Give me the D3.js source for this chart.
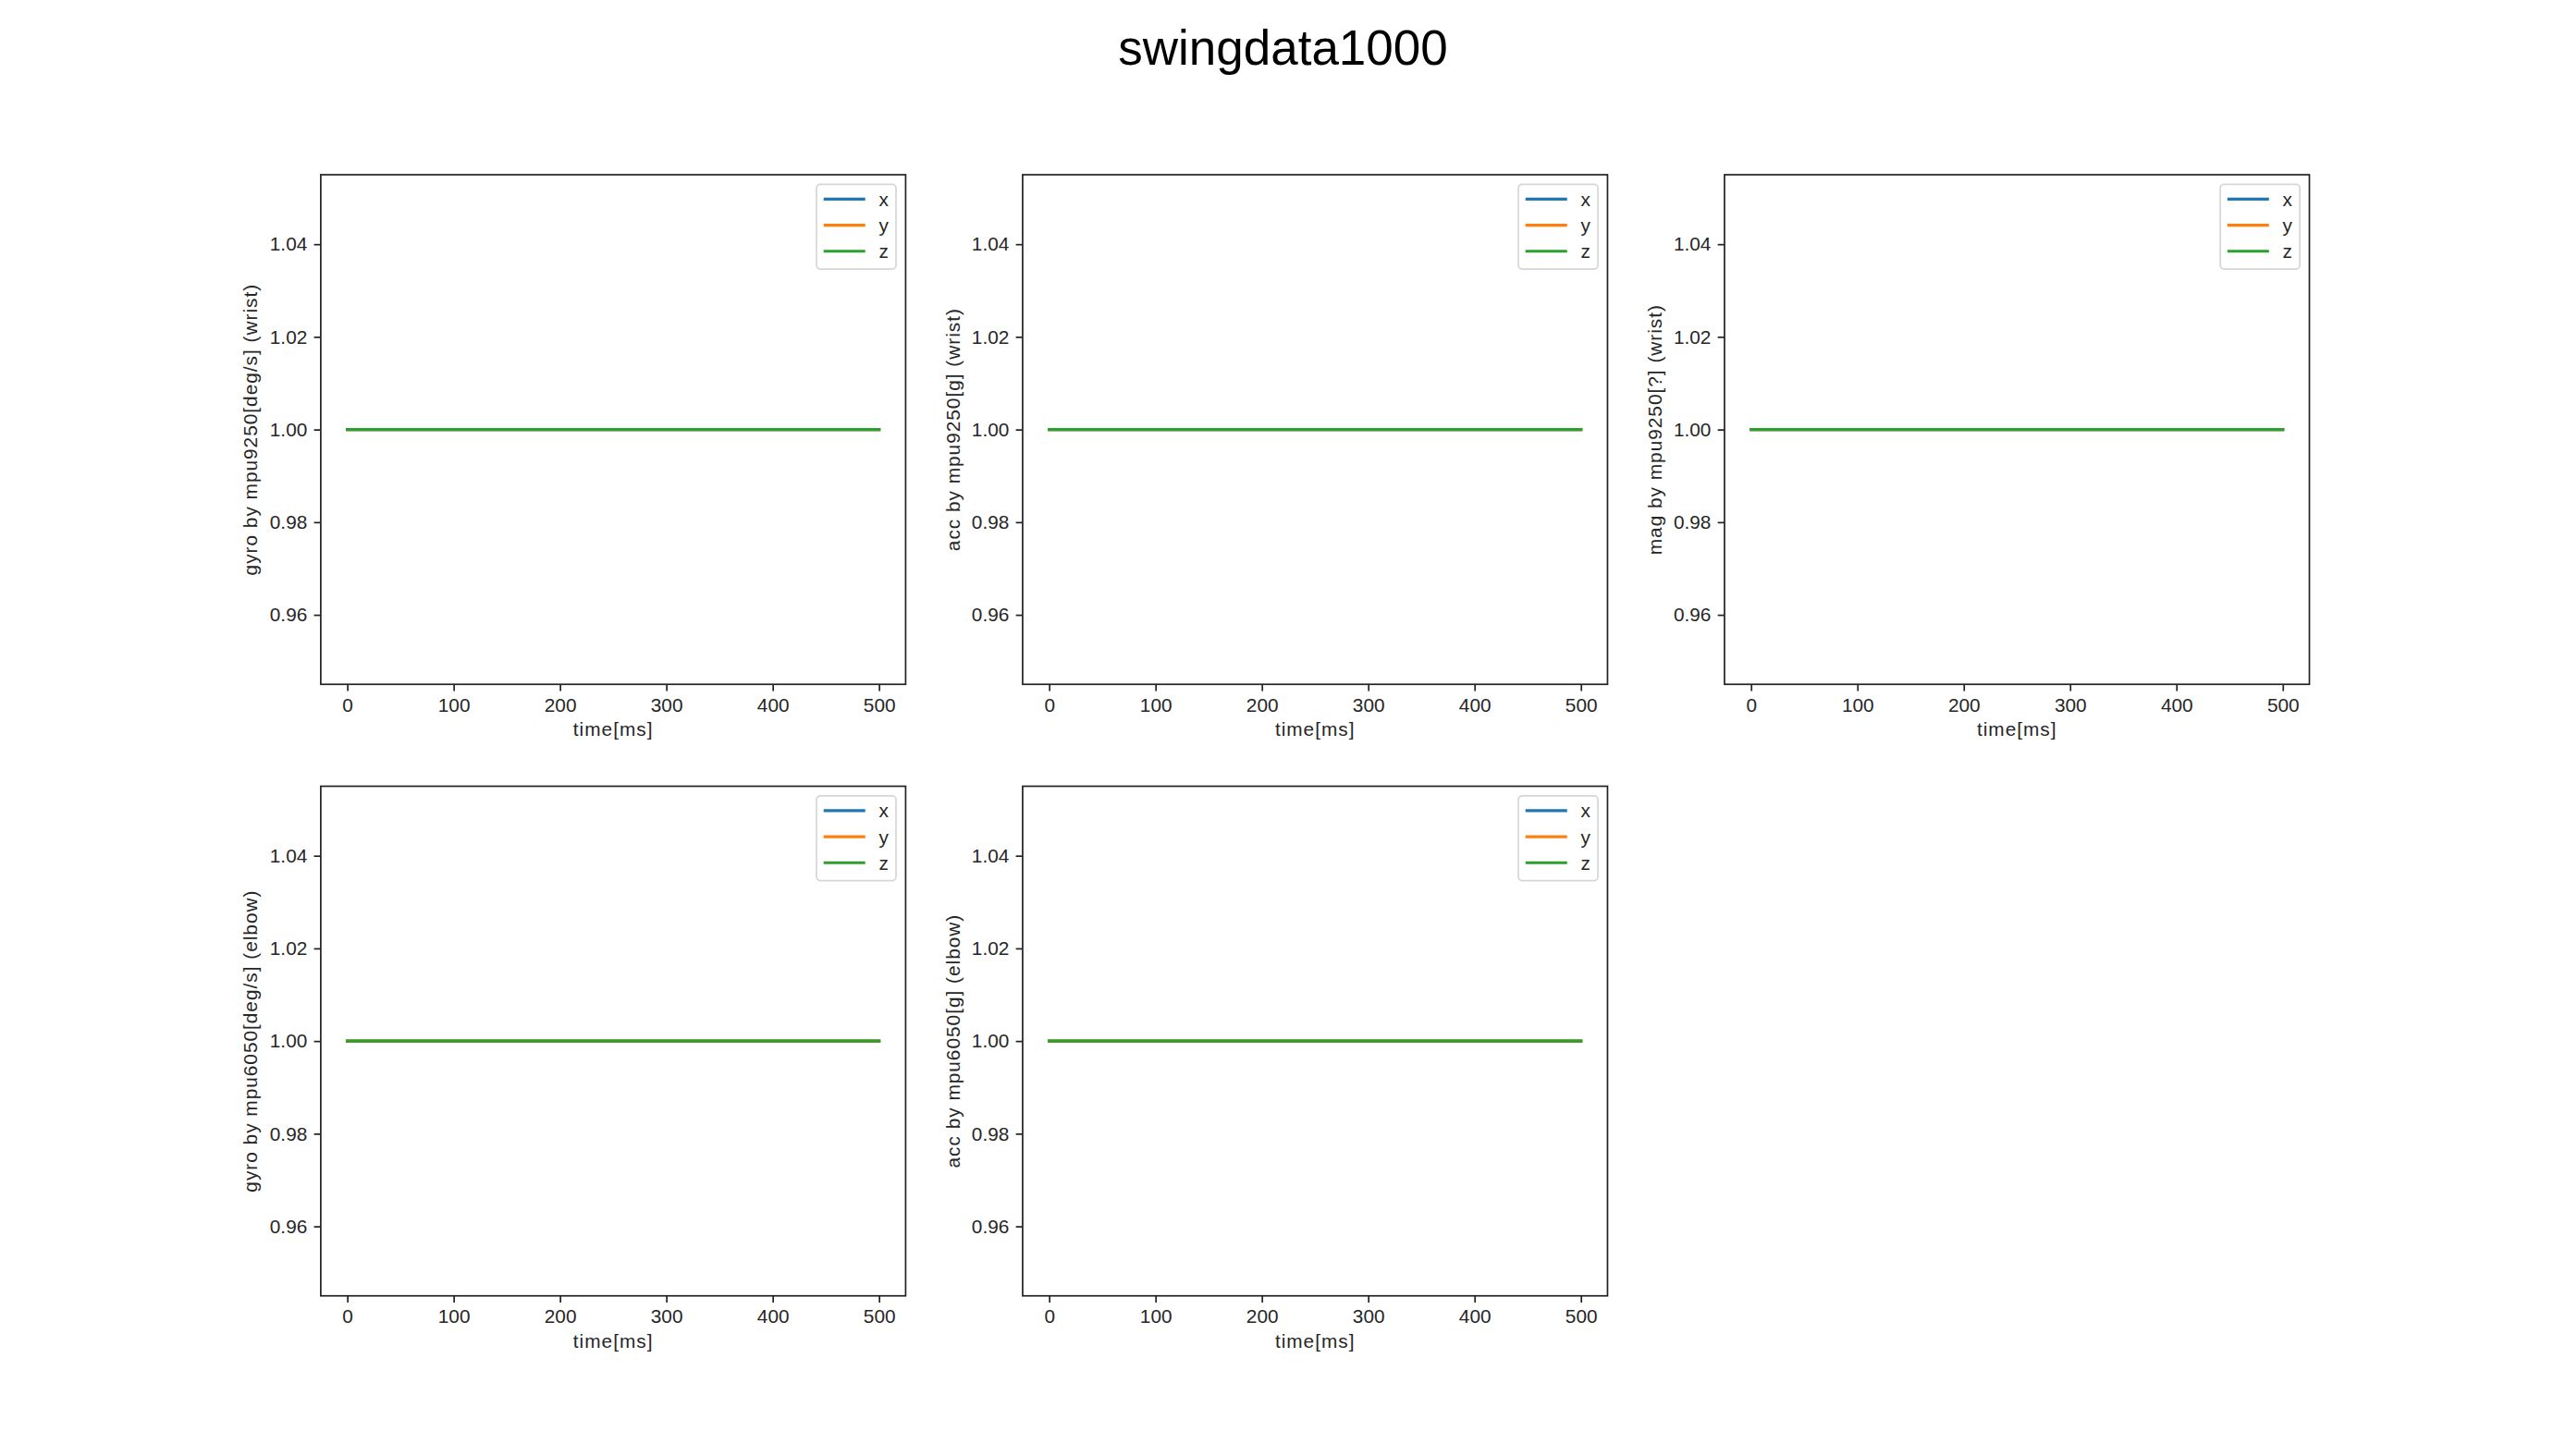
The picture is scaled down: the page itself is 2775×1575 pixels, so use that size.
<!DOCTYPE html>
<html>
<head>
<meta charset="utf-8">
<script src="https://cdn.jsdelivr.net/npm/d3@7"></script>
<style>
  body { margin: 0; background: #fff; }
  svg { display: block; }
  text { font-family: "Liberation Sans", Arial, sans-serif; fill: #262626; }
  .axlabel { letter-spacing: 1px; }
</style>
</head>
<body>
<svg id="chart" width="2775" height="1575"></svg>
<script>
// figure title and panel labels
const figTitle = "swingdata1000";
const xLabel = "time[ms]";
const panelLabels = [
    "gyro by mpu9250[deg/s] (wrist)",
    "acc by mpu9250[g] (wrist)",
    "mag by mpu9250[?] (wrist)",
    "gyro by mpu6050[deg/s] (elbow)",
    "acc by mpu6050[g] (elbow)"
];
const seriesNames = ["x", "y", "z"];

// samples (all sensors read a flat 1.0 in this file)
const timeMs = [0, 100, 200, 300, 400, 500];
const gyroWrist  = [[1, 1, 1, 1, 1, 1], [1, 1, 1, 1, 1, 1], [1, 1, 1, 1, 1, 1]];
const accWrist   = [[1, 1, 1, 1, 1, 1], [1, 1, 1, 1, 1, 1], [1, 1, 1, 1, 1, 1]];
const magWrist   = [[1, 1, 1, 1, 1, 1], [1, 1, 1, 1, 1, 1], [1, 1, 1, 1, 1, 1]];
const gyroElbow  = [[1, 1, 1, 1, 1, 1], [1, 1, 1, 1, 1, 1], [1, 1, 1, 1, 1, 1]];
const accElbow   = [[1, 1, 1, 1, 1, 1], [1, 1, 1, 1, 1, 1], [1, 1, 1, 1, 1, 1]];
const panelData = [gyroWrist, accWrist, magWrist, gyroElbow, accElbow];

// tick labels
const xTicks = [0, 100, 200, 300, 400, 500];
const yTicks = [0.96, 0.98, 1.00, 1.02, 1.04];

const colors = ["#1f77b4", "#ff7f0e", "#2ca02c"];

const W = 2775, H = 1575;
const fs = 20.8;           // 10pt @ 150dpi
const tickLen = 7.3, tickPad = 7.3;

// matplotlib-like subplot grid, 2 rows x 3 cols
const gLeft = 0.125 * W, gRight = 0.9 * W, gTop = 0.12 * H, gBottom = 0.89 * H;
const axW = (gRight - gLeft) / 3.4, axH = (gBottom - gTop) / 2.2;

const svg = d3.select("#chart");

svg.append("text")
    .attr("x", W / 2)
    .attr("y", 70)
    .attr("text-anchor", "middle")
    .style("font-size", "53px")
    .style("fill", "#000")
    .text(figTitle);

// pads the extent the way pyplot does
function padExtent(ext) {
    let lo = ext[0], hi = ext[1];
    if (lo === hi) {
        lo -= 0.05 * Math.abs(lo);
        hi += 0.05 * Math.abs(hi);
    }
    const m = (hi - lo) * 0.05;
    return [lo - m, hi + m];
}

panelData.forEach(function (series, i) {
    const row = Math.floor(i / 3), col = i % 3;
    const ox = gLeft + col * axW * 1.2;
    const oy = gTop + row * axH * 1.2;

    const g = svg.append("g").attr("transform", "translate(" + ox + "," + oy + ")");

    const x = d3.scaleLinear().domain(padExtent(d3.extent(timeMs))).range([0, axW]);
    const allVals = [].concat.apply([], series);
    const y = d3.scaleLinear().domain(padExtent(d3.extent(allVals))).range([axH, 0]);

    const xAxis = g.append("g")
        .attr("transform", "translate(0," + axH + ")")
        .call(d3.axisBottom(x).tickValues(xTicks).tickSize(tickLen).tickPadding(tickPad).tickFormat(d3.format("d")));
    const yAxis = g.append("g")
        .call(d3.axisLeft(y).tickValues(yTicks).tickSize(tickLen).tickPadding(tickPad).tickFormat(d3.format(".2f")));

    [xAxis, yAxis].forEach(function (a) {
        a.attr("font-family", null).attr("font-size", null);
        a.select(".domain").remove();
        a.selectAll("line").attr("stroke", "#222").attr("stroke-width", 1.7);
        a.selectAll("text")
            .style("font-size", fs + "px")
            .attr("fill", "#262626");
    });

    // lines
    const line = d3.line()
        .x(function (d, k) { return x(timeMs[k]); })
        .y(function (d) { return y(d); });

    series.forEach(function (vals, s) {
        g.append("path")
            .datum(vals)
            .attr("d", line)
            .attr("fill", "none")
            .attr("stroke", colors[s])
            .attr("stroke-width", 3.1)
            .attr("stroke-linecap", "square");
    });

    // frame
    g.append("rect")
        .attr("width", axW)
        .attr("height", axH)
        .attr("fill", "none")
        .attr("stroke", "#222")
        .attr("stroke-width", 1.7);

    // axis labels
    g.append("text")
        .attr("class", "axlabel")
        .attr("x", axW / 2)
        .attr("y", axH + 56)
        .attr("text-anchor", "middle")
        .style("font-size", fs + "px")
        .text(xLabel);

    g.append("text")
        .attr("class", "axlabel")
        .attr("transform", "translate(-68.4," + (axH / 2) + ") rotate(-90)")
        .attr("text-anchor", "middle")
        .style("font-size", fs + "px")
        .text(panelLabels[i]);

    // legend
    const lgW = 86, lgH = 91.7;
    const lg = g.append("g").attr("transform", "translate(" + (axW - 10.4 - lgW) + ",10.4)");
    lg.append("rect")
        .attr("width", lgW)
        .attr("height", lgH)
        .attr("rx", 4)
        .attr("fill", "#fff")
        .attr("fill-opacity", 0.8)
        .attr("stroke", "#d6d6d6")
        .attr("stroke-width", 1.7);

    seriesNames.forEach(function (name, s) {
        const ry = 16 + s * 28.2;
        lg.append("line")
            .attr("x1", 7.7).attr("x2", 52.7)
            .attr("y1", ry).attr("y2", ry)
            .attr("stroke", colors[s])
            .attr("stroke-width", 3.1);
        lg.append("text")
            .attr("x", 67.4)
            .attr("y", ry + 7.5)
            .style("font-size", fs + "px")
            .text(name);
    });
});
</script>
</body>
</html>
